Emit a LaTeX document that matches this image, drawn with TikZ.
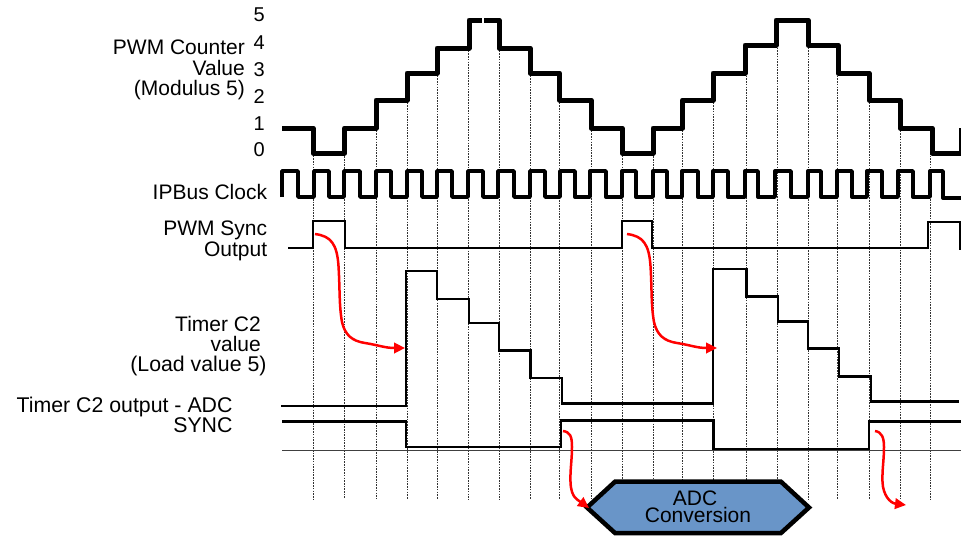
\documentclass[tikz,border=0pt]{standalone}
\usepackage{fontspec}
\setmainfont{Liberation Sans}
\usetikzlibrary{arrows.meta}
\definecolor{adcblue}{HTML}{6995C8}
\definecolor{redline}{HTML}{FF0000}
\tikzset{
  lbl/.style={anchor=base east,inner sep=0pt,font=\fontsize{21}{21}\selectfont,text=black},
  lblb/.style={anchor=base east,inner sep=0pt,font=\fontsize{21.3}{21.3}\selectfont,text=black},
  dig/.style={anchor=base east,inner sep=0pt,font=\fontsize{20}{20}\selectfont,text=black},
  adc/.style={anchor=base,inner sep=0pt,font=\fontsize{21}{21}\selectfont,text=black},
  grid/.style={line width=0.8pt,black!80,dash pattern=on 1.6pt off 1.1pt},
  counter/.style={line width=5pt,black,line join=round},
  clock/.style={line width=3.4pt,black,line join=round},
  sig/.style={line width=2.6pt,black,line join=miter},
  base/.style={line width=1.2pt,black!75},
  cause/.style={line width=2.5pt,redline,-{Triangle[length=11pt,width=10.5pt]}},
  hex/.style={line width=4.5pt,black,fill=adcblue,line join=miter}
}
\begin{document}
\begin{tikzpicture}[x=1pt,y=-1pt]
\useasboundingbox (0,0) rectangle (961,536);
% dashed time grid
\foreach \gx/\gy in {313.5/153,344.5/140,376/128,407/100,437/73,468.5/48,499/48,530/73,559.5/100,591/128,622/153,653/140,682.5/128,713.5/100,746/73,777/45,808/45,837.5/73,869/100,900/128,930.5/153}
  \draw[grid] (\gx,\gy) -- (\gx,499);
% PWM counter
\draw[counter] (282,128) -| (313,153) -| (344.5,128) -| (376,100) -| (407,73) -| (437,48) -| (469,20) -- (481.8,20);
\draw[counter] (484.3,20) -| (499,48) -| (530,73) -| (559.5,100) -| (591,128) -| (622,153) -| (653,128) -| (682.5,100) -| (713,73) -| (745,45) -| (776,20) -| (808,45) -| (838,73) -| (869,100) -| (900,128) -| (932,153) -- (961,153);
\draw[counter] (961,128) -- (961,153);
% clock
\draw[clock] (282,197) |- (298,171) |- (314,197) |- (329,171) |- (344,197) |- (360,171) |- (376,197) |- (391,171) |- (407,197) |- (422,171) |- (437,197) |- (452,171) |- (468,197) |- (483,171) |- (498,197) |- (514,171) |- (530,197) |- (545,171) |- (560,197) |- (575,171) |- (590,197) |- (606,171) |- (622,197) |- (636,171) |- (653,197) |- (667,171) |- (682,197) |- (698,171) |- (713,197) |- (728,171) |- (745,197) |- (758,171) |- (775,197) |- (791,171) |- (808,197) |- (821,171) |- (837,197) |- (852,171) |- (867,197) |- (882,171) |- (898,197) |- (913,171) |- (930,197) |- (943,171) |- (961,198);
% PWM sync
\draw[sig] (288,248) -| (313,221) -| (345,248) -| (622,221) -| (652,248) -| (928,222) -| (960,250);
% timer value
\draw[sig] (281,406) -| (406,271) -| (437,299) -| (469,323) -| (499,350.5) -| (530.5,378) -| (562,403.5) -| (713,269) -| (746.5,296.7) -| (778,321.7) -| (808,348.7) -| (839,376.5) -| (871,401.5) -- (959,401.5);
% timer output
\draw[base] (282,450.5) -- (961,450.5);
\draw[sig] (282,421.5) -| (406,447) -| (561,420.5) -| (713.5,449) -| (869,421.5) -- (961,421.5);
% ADC hexagon
\draw[hex] (587,507.5) -- (615,481.7) -- (781,481.7) -- (809,507.5) -- (781,533) -- (615,533) -- cycle;
\node[adc] (adcA) at (695,505) {ADC};
\node[adc] (adcB) at (698,522.7) {Conversion};
% red cause arrows
\coordinate (syncA) at (315,234);
\coordinate (timerA) at (405,348);
\coordinate (syncB) at (627,234);
\coordinate (timerB) at (717,348);
\coordinate (outA) at (563,431);
\coordinate (hexTip) at (589,508);
\coordinate (outB) at (875,431);
\coordinate (freeEnd) at (906,505);
\draw[cause] (syncA) .. controls (331,236) and (337,244) .. (338.5,266) .. controls (340,290) and (339,305) .. (342,322) .. controls (345,335) and (352,341) .. (365,343) .. controls (378,345) and (385,348) .. (timerA);
\draw[cause] (syncB) .. controls (643,236) and (649,244) .. (650.5,266) .. controls (652,290) and (651,305) .. (654,322) .. controls (657,335) and (664,341) .. (677,343) .. controls (690,345) and (697,348) .. (timerB);
\draw[cause] (outA) .. controls (570,432) and (572,436) .. (572,447) .. controls (572,460) and (570,470) .. (570.5,482) .. controls (571,498) and (578,500) .. (hexTip);
\draw[cause] (outB) .. controls (882,432) and (884,438) .. (884,447) .. controls (884,460) and (882,470) .. (882.5,482) .. controls (883,495) and (890,503) .. (freeEnd);
% labels
\node[dig] (d5) at (265,21.7) {5};
\node[dig] (d4) at (265,49.3) {4};
\node[dig] (d3) at (265,76) {3};
\node[dig] (d2) at (265,103) {2};
\node[dig] (d1) at (265,130) {1};
\node[dig] (d0) at (265,156.7) {0};
\node[lbl] (l1) at (245,54) {PWM Counter};
\node[lbl] (l2) at (245,75) {Value};
\node[lbl] (l3) at (245,95) {(Modulus 5)};
\node[lbl] (l4) at (267.3,199) {IPBus Clock};
\node[lbl] (l5) at (267.3,235.7) {PWM Sync};
\node[lbl] (l6) at (267.3,256.7) {Output};
\node[lbl] (l7) at (261,331) {Timer C2};
\node[lbl] (l8) at (261,351) {value};
\node[lblb] (l9) at (266.7,371.7) {(Load value 5)};
\node[lblb] (l10) at (232.7,412.7) {Timer C2 output - ADC};
\node[lblb] (l11) at (232.7,432.7) {SYNC};
\end{tikzpicture}
\end{document}
